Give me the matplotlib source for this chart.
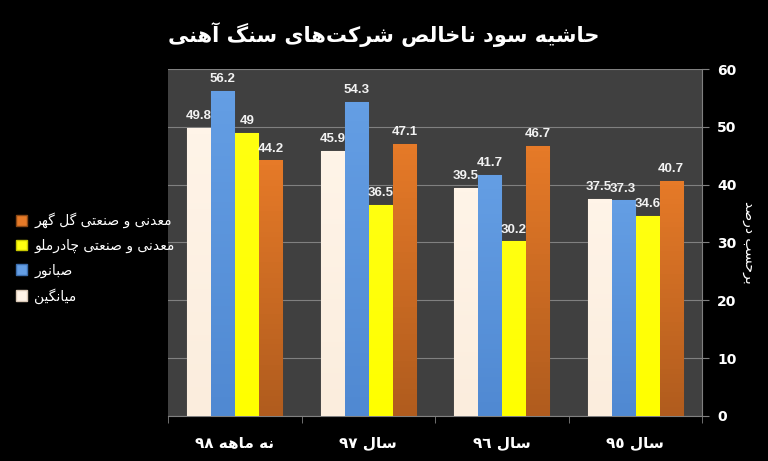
import re
import matplotlib
matplotlib.use("Agg")
import matplotlib.pyplot as plt
import numpy as np
from matplotlib.colors import LinearSegmentedColormap
from matplotlib.patches import Patch

title = "حاشیه سود ناخالص شرکت\u200cهای سنگ آهنی"
categories = ["نه ماهه ٩٨", "سال ٩٧", "سال ٩٦", "سال ٩٥"]
series_names = ["میانگین", "صبانور", "معدنی و صنعتی چادرملو", "معدنی و صنعتی گل گهر"]
avg = [49.8, 45.9, 39.5, 37.5]
sabanour = [56.2, 54.3, 41.7, 37.3]
chadormalu = [49, 36.5, 30.2, 34.6]
golgohar = [44.2, 47.1, 46.7, 40.7]
ylabel = "برحسب درصد"

# (top colour, bottom colour, edge) for each series
colors = [("#fff4e8", "#fbeddd", "#d9c8b6"), ("#649ee4", "#5089d2", "#3d6fae"),
          ("#ffff10", "#ffff00", "#c8c800"), ("#e67a28", "#b05c1e", "#8a4816")]

# simple arabic/persian shaping since matplotlib has no bidi support
FORMS = {
    'ا': (0xFE8D, 0xFE8E, None, None), 'آ': (0xFE81, 0xFE82, None, None),
    'ب': (0xFE8F, 0xFE90, 0xFE91, 0xFE92), 'ت': (0xFE95, 0xFE96, 0xFE97, 0xFE98),
    'ح': (0xFEA1, 0xFEA2, 0xFEA3, 0xFEA4), 'خ': (0xFEA5, 0xFEA6, 0xFEA7, 0xFEA8),
    'د': (0xFEA9, 0xFEAA, None, None), 'ر': (0xFEAD, 0xFEAE, None, None),
    'س': (0xFEB1, 0xFEB2, 0xFEB3, 0xFEB4), 'ش': (0xFEB5, 0xFEB6, 0xFEB7, 0xFEB8),
    'ص': (0xFEB9, 0xFEBA, 0xFEBB, 0xFEBC), 'ع': (0xFEC9, 0xFECA, 0xFECB, 0xFECC),
    'ل': (0xFEDD, 0xFEDE, 0xFEDF, 0xFEE0), 'م': (0xFEE1, 0xFEE2, 0xFEE3, 0xFEE4),
    'ن': (0xFEE5, 0xFEE6, 0xFEE7, 0xFEE8), 'ه': (0xFEE9, 0xFEEA, 0xFEEB, 0xFEEC),
    'و': (0xFEED, 0xFEEE, None, None), 'ی': (0xFBFC, 0xFBFD, 0xFBFE, 0xFBFF),
    'ک': (0xFB8E, 0xFB8F, 0xFB90, 0xFB91), 'گ': (0xFB92, 0xFB93, 0xFB94, 0xFB95),
    'چ': (0xFB7A, 0xFB7B, 0xFB7C, 0xFB7D),
}


def fa(text):
    out = []
    for i, c in enumerate(text):
        if c not in FORMS:
            out.append(c)
            continue
        prev = text[i - 1] if i > 0 else None
        nxt = text[i + 1] if i + 1 < len(text) else None
        jp = prev in FORMS and FORMS[prev][2] is not None
        jn = FORMS[c][2] is not None and nxt in FORMS
        iso, fin, ini, med = FORMS[c]
        g = med if (jp and jn) else fin if jp else ini if jn else iso
        out.append(chr(g))
    s = "".join(out).replace("\u200c", "")[::-1]
    return re.sub(r"[0-9\u0660-\u0669\u06f0-\u06f9.]+", lambda m: m.group(0)[::-1], s)


plt.rcParams['font.family'] = ['DejaVu Sans']

fig = plt.figure(figsize=(7.68, 4.61), dpi=100, facecolor="black")
ax = fig.add_axes([0.219, 0.098, 0.695, 0.752])
ax.set_facecolor("#404040")

data = [avg, sabanour, chadormalu, golgohar]
x = np.arange(len(categories))
w = 0.18
for k, vals in enumerate(data):
    pos = x + (k - 1.5) * w
    bars = ax.bar(pos, vals, w * 0.96, color=colors[k][0], edgecolor=colors[k][2],
                  linewidth=0.8, zorder=3)
    cmap = LinearSegmentedColormap.from_list("g", [colors[k][1], colors[k][0]])
    for b, v in zip(bars, vals):
        bx, by = b.get_x(), b.get_y()
        bw, bh = b.get_width(), b.get_height()
        im = ax.imshow(np.linspace(0, 1, 50).reshape(-1, 1), cmap=cmap, aspect="auto",
                       extent=[bx, bx + bw, by, by + bh], origin="lower", zorder=3.5)
        im.set_clip_path(b)
        ax.text(bx + bw / 2, v + 1.0, f"{v:g}", ha="center", va="bottom",
                color="#f2f2f2", fontsize=9.5, fontweight="bold",
                family="Liberation Sans", zorder=5)

ax.set_xlim(-0.5, len(categories) - 0.5)
ax.set_ylim(0, 60)
ax.set_yticks(np.arange(0, 61, 10))
ax.yaxis.tick_right()
ax.yaxis.set_label_position("right")
ax.grid(axis="y", color="#808080", linewidth=0.8, zorder=1)
ax.tick_params(axis="y", colors="#808080", labelcolor="white", labelsize=10, length=5, pad=6)
for t in ax.get_yticklabels():
    t.set_fontweight("bold")

ax.set_xticks(x)
ax.set_xticklabels([fa(c) for c in categories], color="white", fontsize=11, fontweight="bold")
ax.set_xticks(np.arange(-0.5, len(categories)), minor=True)
ax.tick_params(axis="x", which="major", length=0, pad=14)
ax.tick_params(axis="x", which="minor", length=5, color="#808080")

for s in ["top", "left"]:
    ax.spines[s].set_visible(False)
ax.spines["bottom"].set_color("#808080")
ax.spines["right"].set_color("#808080")

ax.set_ylabel(fa(ylabel), color="white", fontsize=10, rotation=270, labelpad=14)

fig.text(0.5, 0.924, fa(title), ha="center", va="center", color="white",
         fontsize=15, fontweight="bold")

handles = [Patch(facecolor=colors[k][0], edgecolor=colors[k][2]) for k in range(4)][::-1]
labels = [fa(n) for n in series_names][::-1]
leg = fig.legend(handles, labels, loc="center left", bbox_to_anchor=(0.005, 0.44),
                 frameon=False, fontsize=10, labelcolor="white", handlelength=0.8,
                 handleheight=0.8, handletextpad=0.5, labelspacing=0.75)

fig.savefig("out.png", dpi=100, facecolor="black")
